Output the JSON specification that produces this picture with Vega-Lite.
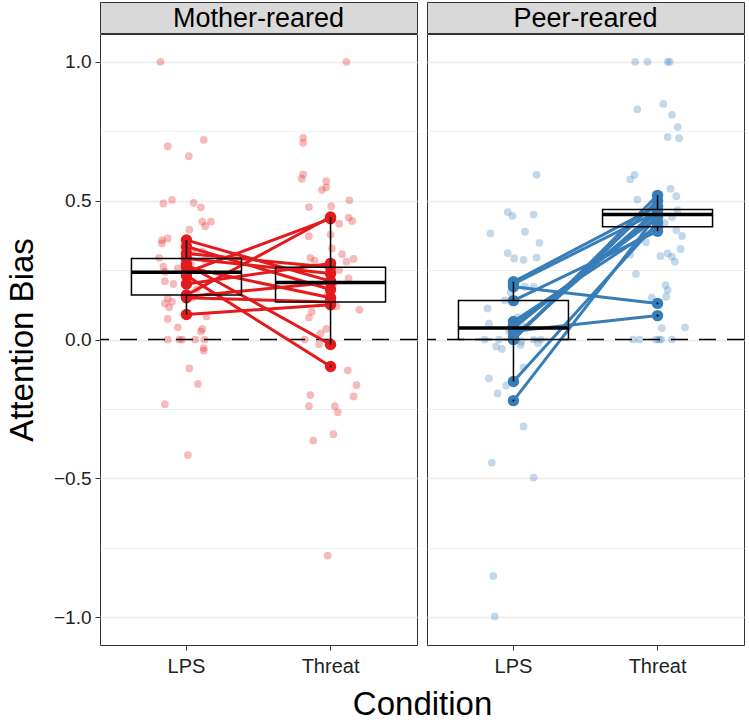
{
  "$schema": "https://vega.github.io/schema/vega-lite/v6.json",
  "padding": {"left": 5, "top": 1, "right": 5, "bottom": 5},
  "background": "white",
  "spacing": 6,
  "config": {
    "font": "Liberation Sans",
    "view": {"stroke": "#333333", "strokeWidth": 1}
  },
  "title": {"text": "Condition", "orient": "bottom", "anchor": "middle", "fontSize": 33, "fontWeight": "normal", "color": "black", "font": "Liberation Sans", "offset": 12, "dx": 47},
  "datasets": {
    "raw": [
      {"g":"M","c":"LPS","j":-0.18,"v":1.0},{"g":"M","c":"LPS","j":-0.13,"v":0.696},{"g":"M","c":"LPS","j":0.12,"v":0.719},{"g":"M","c":"LPS","j":0.016,"v":0.66},
      {"g":"M","c":"LPS","j":-0.16,"v":0.49},{"g":"M","c":"LPS","j":-0.10,"v":0.503},{"g":"M","c":"LPS","j":0.05,"v":0.492},{"g":"M","c":"LPS","j":0.10,"v":0.476},
      {"g":"M","c":"LPS","j":0.11,"v":0.424},{"g":"M","c":"LPS","j":0.17,"v":0.424},{"g":"M","c":"LPS","j":0.13,"v":0.408},{"g":"M","c":"LPS","j":0.02,"v":0.396},
      {"g":"M","c":"LPS","j":-0.17,"v":0.358},{"g":"M","c":"LPS","j":-0.13,"v":0.364},{"g":"M","c":"LPS","j":-0.17,"v":0.346},{"g":"M","c":"LPS","j":-0.19,"v":0.294},
      {"g":"M","c":"LPS","j":-0.16,"v":0.262},{"g":"M","c":"LPS","j":-0.15,"v":0.244},{"g":"M","c":"LPS","j":-0.06,"v":0.256},{"g":"M","c":"LPS","j":-0.15,"v":0.21},
      {"g":"M","c":"LPS","j":-0.09,"v":0.2},{"g":"M","c":"LPS","j":0.11,"v":0.316},{"g":"M","c":"LPS","j":0.13,"v":0.286},{"g":"M","c":"LPS","j":-0.13,"v":0.148},
      {"g":"M","c":"LPS","j":-0.15,"v":0.13},{"g":"M","c":"LPS","j":-0.10,"v":0.136},{"g":"M","c":"LPS","j":-0.12,"v":0.116},{"g":"M","c":"LPS","j":-0.13,"v":0.074},
      {"g":"M","c":"LPS","j":-0.06,"v":0.044},{"g":"M","c":"LPS","j":0.14,"v":0.083},{"g":"M","c":"LPS","j":-0.13,"v":0.0},{"g":"M","c":"LPS","j":-0.05,"v":0.0},
      {"g":"M","c":"LPS","j":-0.03,"v":0.0},{"g":"M","c":"LPS","j":0.06,"v":0.0},{"g":"M","c":"LPS","j":0.11,"v":0.038},{"g":"M","c":"LPS","j":0.10,"v":0.029},
      {"g":"M","c":"LPS","j":0.125,"v":0.0},{"g":"M","c":"LPS","j":0.12,"v":-0.031},{"g":"M","c":"LPS","j":0.12,"v":-0.04},{"g":"M","c":"LPS","j":0.02,"v":-0.104},
      {"g":"M","c":"LPS","j":0.08,"v":-0.16},{"g":"M","c":"LPS","j":-0.15,"v":-0.233},{"g":"M","c":"LPS","j":0.01,"v":-0.416},
      {"g":"M","c":"LPS","j":0.04,"v":0.316},{"g":"M","c":"LPS","j":0.03,"v":0.27},{"g":"M","c":"LPS","j":0.0,"v":0.22},{"g":"M","c":"LPS","j":0.07,"v":0.18},{"g":"M","c":"LPS","j":0.04,"v":0.15},

      {"g":"M","c":"Threat","j":0.11,"v":1.0},{"g":"M","c":"Threat","j":-0.19,"v":0.726},{"g":"M","c":"Threat","j":-0.19,"v":0.708},{"g":"M","c":"Threat","j":-0.19,"v":0.595},
      {"g":"M","c":"Threat","j":-0.20,"v":0.579},{"g":"M","c":"Threat","j":-0.03,"v":0.57},{"g":"M","c":"Threat","j":-0.03,"v":0.548},{"g":"M","c":"Threat","j":-0.06,"v":0.539},
      {"g":"M","c":"Threat","j":0.13,"v":0.501},{"g":"M","c":"Threat","j":-0.15,"v":0.477},{"g":"M","c":"Threat","j":0.005,"v":0.48},{"g":"M","c":"Threat","j":0.125,"v":0.439},
      {"g":"M","c":"Threat","j":0.15,"v":0.427},{"g":"M","c":"Threat","j":0.06,"v":0.417},{"g":"M","c":"Threat","j":-0.15,"v":0.372},{"g":"M","c":"Threat","j":0.0,"v":0.378},
      {"g":"M","c":"Threat","j":0.01,"v":0.328},{"g":"M","c":"Threat","j":0.08,"v":0.307},{"g":"M","c":"Threat","j":-0.14,"v":0.294},{"g":"M","c":"Threat","j":-0.11,"v":0.284},
      {"g":"M","c":"Threat","j":0.11,"v":0.28},{"g":"M","c":"Threat","j":0.16,"v":0.29},{"g":"M","c":"Threat","j":0.06,"v":0.25},{"g":"M","c":"Threat","j":0.125,"v":0.22},
      {"g":"M","c":"Threat","j":0.2,"v":0.107},{"g":"M","c":"Threat","j":-0.13,"v":0.1},{"g":"M","c":"Threat","j":-0.15,"v":0.079},{"g":"M","c":"Threat","j":-0.03,"v":0.038},
      {"g":"M","c":"Threat","j":-0.07,"v":0.022},{"g":"M","c":"Threat","j":-0.18,"v":0.0},{"g":"M","c":"Threat","j":-0.08,"v":-0.017},{"g":"M","c":"Threat","j":0.12,"v":-0.111},
      {"g":"M","c":"Threat","j":0.18,"v":-0.164},{"g":"M","c":"Threat","j":-0.14,"v":-0.2},{"g":"M","c":"Threat","j":0.16,"v":-0.205},{"g":"M","c":"Threat","j":-0.15,"v":-0.24},
      {"g":"M","c":"Threat","j":0.03,"v":-0.24},{"g":"M","c":"Threat","j":0.05,"v":-0.262},{"g":"M","c":"Threat","j":0.02,"v":-0.341},{"g":"M","c":"Threat","j":-0.12,"v":-0.364},
      {"g":"M","c":"Threat","j":-0.02,"v":-0.778},{"g":"M","c":"Threat","j":0.02,"v":0.2},{"g":"M","c":"Threat","j":-0.02,"v":0.16},{"g":"M","c":"Threat","j":0.04,"v":0.12},

      {"g":"P","c":"LPS","j":0.16,"v":0.593},{"g":"P","c":"LPS","j":-0.04,"v":0.459},{"g":"P","c":"LPS","j":-0.007,"v":0.445},{"g":"P","c":"LPS","j":0.14,"v":0.45},
      {"g":"P","c":"LPS","j":-0.16,"v":0.382},{"g":"P","c":"LPS","j":0.08,"v":0.388},{"g":"P","c":"LPS","j":0.18,"v":0.348},{"g":"P","c":"LPS","j":-0.04,"v":0.311},
      {"g":"P","c":"LPS","j":0.005,"v":0.292},{"g":"P","c":"LPS","j":0.07,"v":0.287},{"g":"P","c":"LPS","j":0.16,"v":0.295},{"g":"P","c":"LPS","j":-0.06,"v":0.141},
      {"g":"P","c":"LPS","j":-0.18,"v":0.112},{"g":"P","c":"LPS","j":-0.17,"v":0.057},{"g":"P","c":"LPS","j":-0.2,"v":0.0},{"g":"P","c":"LPS","j":-0.1,"v":0.0},
      {"g":"P","c":"LPS","j":0.055,"v":-0.007},{"g":"P","c":"LPS","j":0.14,"v":0.0},{"g":"P","c":"LPS","j":0.19,"v":0.0},{"g":"P","c":"LPS","j":-0.12,"v":-0.025},
      {"g":"P","c":"LPS","j":-0.08,"v":-0.034},{"g":"P","c":"LPS","j":0.05,"v":-0.02},{"g":"P","c":"LPS","j":0.17,"v":-0.013},{"g":"P","c":"LPS","j":0.07,"v":-0.1},
      {"g":"P","c":"LPS","j":-0.17,"v":-0.14},{"g":"P","c":"LPS","j":-0.11,"v":-0.194},{"g":"P","c":"LPS","j":-0.05,"v":-0.166},{"g":"P","c":"LPS","j":0.07,"v":-0.313},
      {"g":"P","c":"LPS","j":-0.15,"v":-0.443},{"g":"P","c":"LPS","j":0.14,"v":-0.497},{"g":"P","c":"LPS","j":-0.14,"v":-0.852},{"g":"P","c":"LPS","j":-0.13,"v":-0.997},
      {"g":"P","c":"LPS","j":0.08,"v":0.19},{"g":"P","c":"LPS","j":0.14,"v":0.19},{"g":"P","c":"LPS","j":-0.02,"v":0.17},{"g":"P","c":"LPS","j":0.03,"v":0.08},
      {"g":"P","c":"LPS","j":-0.03,"v":0.03},{"g":"P","c":"LPS","j":0.06,"v":0.05},

      {"g":"P","c":"Threat","j":-0.155,"v":1.0},{"g":"P","c":"Threat","j":-0.07,"v":1.0},{"g":"P","c":"Threat","j":0.07,"v":1.0},{"g":"P","c":"Threat","j":0.085,"v":1.0},
      {"g":"P","c":"Threat","j":-0.14,"v":0.829},{"g":"P","c":"Threat","j":0.04,"v":0.848},{"g":"P","c":"Threat","j":0.10,"v":0.809},{"g":"P","c":"Threat","j":0.14,"v":0.765},
      {"g":"P","c":"Threat","j":0.07,"v":0.729},{"g":"P","c":"Threat","j":0.15,"v":0.725},{"g":"P","c":"Threat","j":-0.19,"v":0.577},{"g":"P","c":"Threat","j":-0.16,"v":0.593},
      {"g":"P","c":"Threat","j":0.09,"v":0.543},{"g":"P","c":"Threat","j":0.13,"v":0.516},{"g":"P","c":"Threat","j":-0.14,"v":0.504},{"g":"P","c":"Threat","j":0.10,"v":0.441},
      {"g":"P","c":"Threat","j":0.14,"v":0.466},{"g":"P","c":"Threat","j":0.13,"v":0.394},{"g":"P","c":"Threat","j":0.17,"v":0.373},{"g":"P","c":"Threat","j":-0.10,"v":0.388},
      {"g":"P","c":"Threat","j":-0.19,"v":0.306},{"g":"P","c":"Threat","j":0.16,"v":0.326},{"g":"P","c":"Threat","j":0.02,"v":0.3},{"g":"P","c":"Threat","j":0.07,"v":0.31},
      {"g":"P","c":"Threat","j":0.10,"v":0.298},{"g":"P","c":"Threat","j":-0.15,"v":0.236},{"g":"P","c":"Threat","j":0.055,"v":0.196},{"g":"P","c":"Threat","j":0.07,"v":0.178},
      {"g":"P","c":"Threat","j":0.06,"v":0.154},{"g":"P","c":"Threat","j":-0.04,"v":0.151},{"g":"P","c":"Threat","j":0.03,"v":0.041},{"g":"P","c":"Threat","j":0.19,"v":0.044},
      {"g":"P","c":"Threat","j":-0.17,"v":0.0},{"g":"P","c":"Threat","j":-0.125,"v":0.0},{"g":"P","c":"Threat","j":-0.01,"v":0.0},{"g":"P","c":"Threat","j":0.01,"v":0.0},
      {"g":"P","c":"Threat","j":0.025,"v":0.0},{"g":"P","c":"Threat","j":0.10,"v":0.0},{"g":"P","c":"Threat","j":-0.05,"v":0.45},{"g":"P","c":"Threat","j":0.05,"v":0.42},
      {"g":"P","c":"Threat","j":-0.08,"v":0.35},{"g":"P","c":"Threat","j":0.12,"v":0.28}
    ],
    "subj": [
      {"g":"M","s":1,"c":"LPS","v":0.09},{"g":"M","s":1,"c":"Threat","v":0.125},
      {"g":"M","s":2,"c":"LPS","v":0.16},{"g":"M","s":2,"c":"Threat","v":0.441},
      {"g":"M","s":3,"c":"LPS","v":0.242},{"g":"M","s":3,"c":"Threat","v":0.435},
      {"g":"M","s":4,"c":"LPS","v":0.27},{"g":"M","s":4,"c":"Threat","v":-0.018},
      {"g":"M","s":5,"c":"LPS","v":0.23},{"g":"M","s":5,"c":"Threat","v":-0.097},
      {"g":"M","s":6,"c":"LPS","v":0.358},{"g":"M","s":6,"c":"Threat","v":0.21},
      {"g":"M","s":7,"c":"LPS","v":0.335},{"g":"M","s":7,"c":"Threat","v":0.18},
      {"g":"M","s":8,"c":"LPS","v":0.31},{"g":"M","s":8,"c":"Threat","v":0.26},
      {"g":"M","s":9,"c":"LPS","v":0.292},{"g":"M","s":9,"c":"Threat","v":0.238},
      {"g":"M","s":10,"c":"LPS","v":0.26},{"g":"M","s":10,"c":"Threat","v":0.15},
      {"g":"M","s":11,"c":"LPS","v":0.2},{"g":"M","s":11,"c":"Threat","v":0.274},
      {"g":"M","s":12,"c":"LPS","v":0.155},{"g":"M","s":12,"c":"Threat","v":0.205},
      {"g":"M","s":13,"c":"LPS","v":0.15},{"g":"M","s":13,"c":"Threat","v":0.135},
      {"g":"P","s":14,"c":"LPS","v":0.19},{"g":"P","s":14,"c":"Threat","v":0.13},
      {"g":"P","s":15,"c":"LPS","v":0.03},{"g":"P","s":15,"c":"Threat","v":0.086},
      {"g":"P","s":16,"c":"LPS","v":0.208},{"g":"P","s":16,"c":"Threat","v":0.48},
      {"g":"P","s":17,"c":"LPS","v":0.2},{"g":"P","s":17,"c":"Threat","v":0.46},
      {"g":"P","s":18,"c":"LPS","v":-0.22},{"g":"P","s":18,"c":"Threat","v":0.45},
      {"g":"P","s":19,"c":"LPS","v":-0.151},{"g":"P","s":19,"c":"Threat","v":0.42},
      {"g":"P","s":20,"c":"LPS","v":0.0},{"g":"P","s":20,"c":"Threat","v":0.519},
      {"g":"P","s":21,"c":"LPS","v":0.0},{"g":"P","s":21,"c":"Threat","v":0.5},
      {"g":"P","s":22,"c":"LPS","v":0.01},{"g":"P","s":22,"c":"Threat","v":0.468},
      {"g":"P","s":23,"c":"LPS","v":0.041},{"g":"P","s":23,"c":"Threat","v":0.455},
      {"g":"P","s":24,"c":"LPS","v":0.05},{"g":"P","s":24,"c":"Threat","v":0.44},
      {"g":"P","s":25,"c":"LPS","v":0.065},{"g":"P","s":25,"c":"Threat","v":0.406},
      {"g":"P","s":26,"c":"LPS","v":0.14},{"g":"P","s":26,"c":"Threat","v":0.39}
    ]
  },
  "hconcat": [
    {
      "spacing": -4,
      "vconcat": [
        {
          "width": 317, "height": 31,
          "view": {"fill": "#D9D9D9", "stroke": "#333333"},
          "data": {"values": [{"t": "Mother-reared"}]},
          "mark": {"type": "text", "fontSize": 27, "color": "black", "baseline": "middle", "align": "center", "dy": 1},
          "encoding": {"text": {"field": "t", "type": "nominal"}}
        },
        {
          "width": 317, "height": 611,
          "layer": [
            {
              "data": {"name": "raw"},
              "transform": [{"filter": "datum.g == 'M'"}],
              "mark": {"type": "circle", "size": 60, "opacity": 0.3, "color": "#E41A1C"},
              "encoding": {
                "x": {"field": "c", "type": "nominal", "title": null, "scale": {"type": "band", "domain": ["LPS", "Threat"], "paddingInner": 0, "paddingOuter": 0.1},
                      "axis": {"title": null, "labelAngle": 0, "labelFontSize": 20, "labelColor": "#222222", "tickColor": "#333333", "tickSize": 5, "domain": false, "grid": false, "bandPosition": 0.5, "labelPadding": 6}},
                "xOffset": {"field": "j", "type": "quantitative", "scale": {"domain": [-0.5, 0.5]}},
                "y": {"field": "v", "type": "quantitative", "title": "Attention Bias", "scale": {"domain": [-1.1, 1.1], "nice": false, "zero": false},
                      "axis": {"title": "Attention Bias", "titleFontSize": 33, "titleFontWeight": "normal", "titleColor": "black", "titlePadding": 14,
                               "values": [-1, -0.75, -0.5, -0.25, 0, 0.25, 0.5, 0.75, 1],
                               "labelExpr": "abs(datum.value*2 - round(datum.value*2)) < 0.001 ? format(datum.value, '.1f') : ''",
                               "labelFontSize": 19, "labelColor": "#222222", "labelPadding": 4,
                               "tickSize": 5,
                               "tickColor": {"condition": {"test": "abs(datum.value*2 - round(datum.value*2)) > 0.001", "value": "transparent"}, "value": "#333333"},
                               "domain": false, "grid": true, "gridColor": "#EBEBEB",
                               "gridWidth": {"condition": {"test": "abs(datum.value*2 - round(datum.value*2)) > 0.001", "value": 0.8}, "value": 1.3}}}
              }
            },
            {
              "data": {"values": [{"z": 0}]},
              "mark": {"type": "rule", "color": "black", "strokeWidth": 1.3, "strokeDash": [17, 11]},
              "encoding": {"y": {"field": "z", "type": "quantitative", "title": "Attention Bias"}}
            },
            {
              "data": {"name": "subj"},
              "transform": [{"filter": "datum.g == 'M'"}],
              "mark": {"type": "line", "color": "#E41A1C", "strokeWidth": 3},
              "encoding": {"x": {"field": "c", "type": "nominal", "title": null}, "y": {"field": "v", "type": "quantitative", "title": "Attention Bias"}, "detail": {"field": "s", "type": "nominal"}}
            },
            {
              "data": {"name": "subj"},
              "transform": [{"filter": "datum.g == 'M'"}],
              "mark": {"type": "circle", "size": 130, "opacity": 1, "color": "#E41A1C"},
              "encoding": {"x": {"field": "c", "type": "nominal", "title": null}, "y": {"field": "v", "type": "quantitative", "title": "Attention Bias"}}
            },
            {
              "data": {"name": "subj"},
              "transform": [{"filter": "datum.g == 'M'"}],
              "mark": {"type": "boxplot", "extent": 1.5, "size": 110,
                       "box": {"fill": "transparent", "stroke": "black", "strokeWidth": 1.5},
                       "median": {"color": "black", "fill": "black", "thickness": 3.5, "opacity": 1},
                       "rule": {"color": "black", "strokeWidth": 1.5},
                       "ticks": false,
                       "outliers": {"color": "black", "size": 5, "filled": true, "opacity": 1}},
              "encoding": {"x": {"field": "c", "type": "nominal", "title": null}, "y": {"field": "v", "type": "quantitative", "title": "Attention Bias"}}
            }
          ]
        }
      ]
    },
    {
      "spacing": -4,
      "vconcat": [
        {
          "width": 317, "height": 31,
          "view": {"fill": "#D9D9D9", "stroke": "#333333"},
          "data": {"values": [{"t": "Peer-reared"}]},
          "mark": {"type": "text", "fontSize": 27, "color": "black", "baseline": "middle", "align": "center", "dy": 1},
          "encoding": {"text": {"field": "t", "type": "nominal"}}
        },
        {
          "width": 317, "height": 611,
          "layer": [
            {
              "data": {"name": "raw"},
              "transform": [{"filter": "datum.g == 'P'"}],
              "mark": {"type": "circle", "size": 60, "opacity": 0.3, "color": "#377EB8"},
              "encoding": {
                "x": {"field": "c", "type": "nominal", "title": null, "scale": {"type": "band", "domain": ["LPS", "Threat"], "paddingInner": 0, "paddingOuter": 0.1},
                      "axis": {"title": null, "labelAngle": 0, "labelFontSize": 20, "labelColor": "#222222", "tickColor": "#333333", "tickSize": 5, "domain": false, "grid": false, "bandPosition": 0.5, "labelPadding": 6}},
                "xOffset": {"field": "j", "type": "quantitative", "scale": {"domain": [-0.5, 0.5]}},
                "y": {"field": "v", "type": "quantitative", "title": null, "scale": {"domain": [-1.1, 1.1], "nice": false, "zero": false},
                      "axis": {"title": null, "labels": false, "ticks": false, "domain": false,
                               "values": [-1, -0.75, -0.5, -0.25, 0, 0.25, 0.5, 0.75, 1],
                               "grid": true, "gridColor": "#EBEBEB",
                               "gridWidth": {"condition": {"test": "abs(datum.value*2 - round(datum.value*2)) > 0.001", "value": 0.8}, "value": 1.3}}}
              }
            },
            {
              "data": {"values": [{"z": 0}]},
              "mark": {"type": "rule", "color": "black", "strokeWidth": 1.3, "strokeDash": [17, 11]},
              "encoding": {"y": {"field": "z", "type": "quantitative", "title": null}}
            },
            {
              "data": {"name": "subj"},
              "transform": [{"filter": "datum.g == 'P'"}],
              "mark": {"type": "line", "color": "#377EB8", "strokeWidth": 3},
              "encoding": {"x": {"field": "c", "type": "nominal", "title": null}, "y": {"field": "v", "type": "quantitative", "title": null}, "detail": {"field": "s", "type": "nominal"}}
            },
            {
              "data": {"name": "subj"},
              "transform": [{"filter": "datum.g == 'P'"}],
              "mark": {"type": "circle", "size": 130, "opacity": 1, "color": "#377EB8"},
              "encoding": {"x": {"field": "c", "type": "nominal", "title": null}, "y": {"field": "v", "type": "quantitative", "title": null}}
            },
            {
              "data": {"name": "subj"},
              "transform": [{"filter": "datum.g == 'P'"}],
              "mark": {"type": "boxplot", "extent": 1.5, "size": 110,
                       "box": {"fill": "transparent", "stroke": "black", "strokeWidth": 1.5},
                       "median": {"color": "black", "fill": "black", "thickness": 3.5, "opacity": 1},
                       "rule": {"color": "black", "strokeWidth": 1.5},
                       "ticks": false,
                       "outliers": {"color": "black", "size": 5, "filled": true, "opacity": 1}},
              "encoding": {"x": {"field": "c", "type": "nominal", "title": null}, "y": {"field": "v", "type": "quantitative", "title": null}}
            }
          ]
        }
      ]
    }
  ]
}
